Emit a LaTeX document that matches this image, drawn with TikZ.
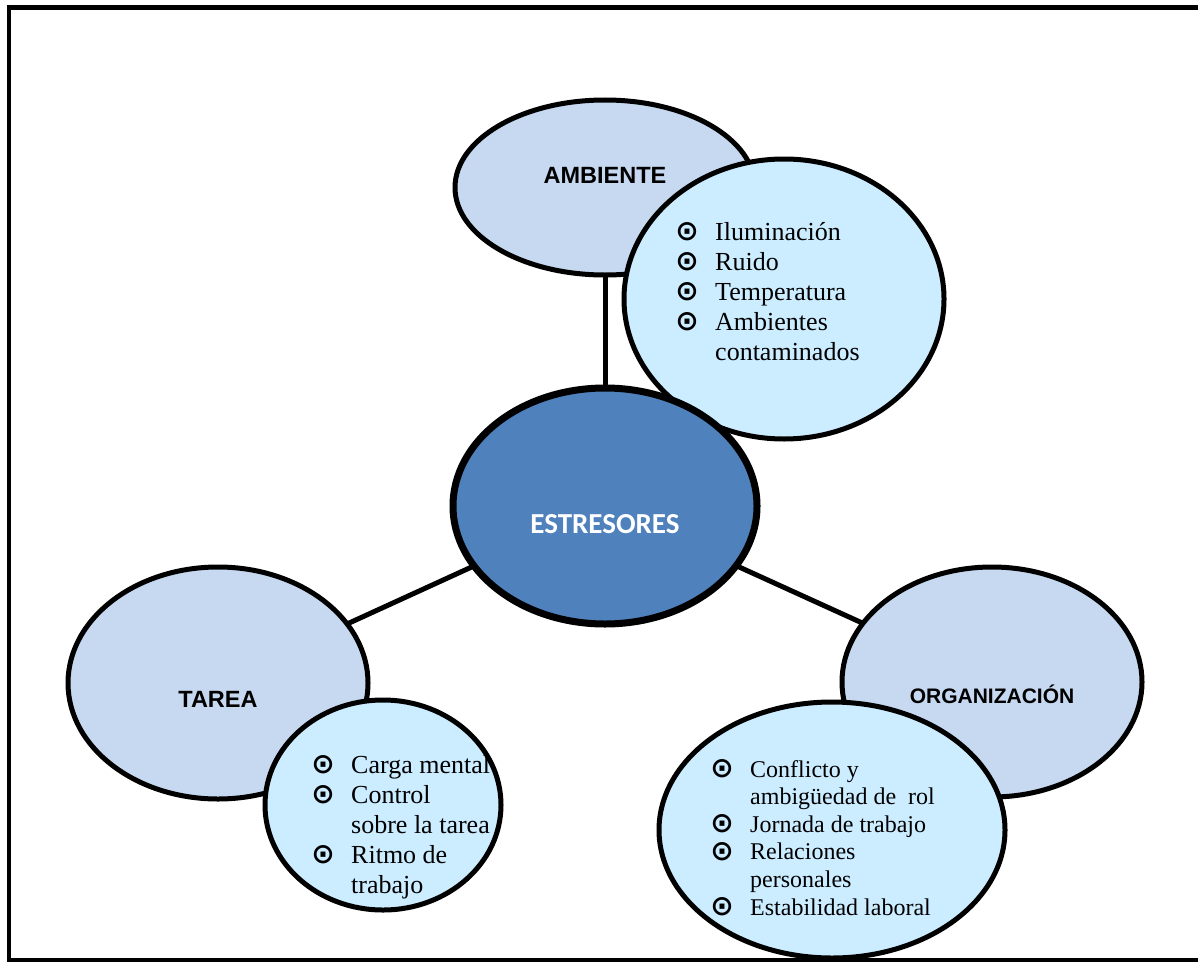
\documentclass[tikz,border=0pt]{standalone}
\usepackage{fontspec}
\setmainfont{Liberation Serif}
\newfontfamily\arialf{Liberation Sans}
\newfontfamily\calibf{Carlito}
\newfontfamily\dejaf{DejaVu Sans}
\usetikzlibrary{shapes.geometric,backgrounds}
\definecolor{lav}{HTML}{C6D9F0}
\definecolor{cyanl}{HTML}{CCECFF}
\definecolor{blueone}{HTML}{4F81BD}
\newcommand\bul{\makebox[0pt][c]{\raisebox{-0.5pt}{\dejaf\bfseries\fontsize{28}{28}\selectfont ⊙}}\hspace{28pt}}
\newcommand\ind{\hspace*{28pt}}
\begin{document}
\begin{tikzpicture}[x=1pt,y=-1pt,
  oval/.style={ellipse, draw=black, line width=5pt, inner sep=0pt},
  topic/.style={oval, fill=lav},
  listoval/.style={oval, fill=cyanl},
  lbl/.style={font=\arialf\bfseries\fontsize{23.5}{28}\selectfont, inner sep=0pt, anchor=base},
  items/.style={anchor=base west, inner sep=0pt},
  link/.style={line width=5pt}]
\useasboundingbox (0,0) rectangle (1198,963);
\draw[line width=4.5pt] (1210,7.5) -- (9,7.5) -- (9,960) -- (1210,960);

% AMBIENTE
\node[topic, minimum width=300pt, minimum height=175pt] (amb) at (605,187.5) {};
\node[lbl] (ambt) at (605,183) {AMBIENTE};
\node[listoval, minimum width=320pt, minimum height=280pt] (ambl) at (784,299) {};
\node[items, font=\fontsize{26}{30}\selectfont] (ambi) at (687,240) {\begin{tabular}[t]{@{}l@{}}
\bul Iluminación\\
\bul Ruido\\
\bul Temperatura\\
\bul Ambientes\\
\ind contaminados
\end{tabular}};

% ESTRESORES
\node[oval, fill=blueone, line width=7pt, minimum width=304pt, minimum height=236pt] (est) at (605,506) {};
\node[font=\calibf\bfseries\fontsize{29}{33}\selectfont, text=white, inner sep=0pt, anchor=base] (estt) at (605,533) {ESTRESORES};

% TAREA
\node[topic, minimum width=300pt, minimum height=232pt] (tar) at (218,683) {};
\node[lbl] (tart) at (218,707) {TAREA};
\node[listoval, minimum width=236pt, minimum height=210pt] (tarl) at (383,805) {};
\node[items, font=\fontsize{26}{30}\selectfont] (tari) at (323,773) {\begin{tabular}[t]{@{}l@{}}
\bul Carga mental\\
\bul Control\\
\ind sobre la tarea\\
\bul Ritmo de\\
\ind trabajo
\end{tabular}};

% ORGANIZACION
\node[topic, minimum width=300pt, minimum height=230pt] (org) at (992,682) {};
\node[lbl, font=\arialf\bfseries\fontsize{21}{25}\selectfont] (orgt) at (992,703) {ORGANIZACIÓN};
\node[listoval, minimum width=346pt, minimum height=256pt] (orgl) at (832,830) {};
\node[items, font=\fontsize{24}{27.6}\selectfont] (orgi) at (722,777) {\begin{tabular}[t]{@{}l@{}}
\bul Conflicto y\\
\ind ambigüedad de\ \ rol\\
\bul Jornada de trabajo\\
\bul Relaciones\\
\ind personales\\
\bul Estabilidad laboral
\end{tabular}};

\begin{scope}[on background layer]
\draw[link] (amb.center) -- (est.center);
\draw[link] (est.center) -- (tar.center);
\draw[link] (est.center) -- (org.center);
\end{scope}
\end{tikzpicture}
\end{document}
